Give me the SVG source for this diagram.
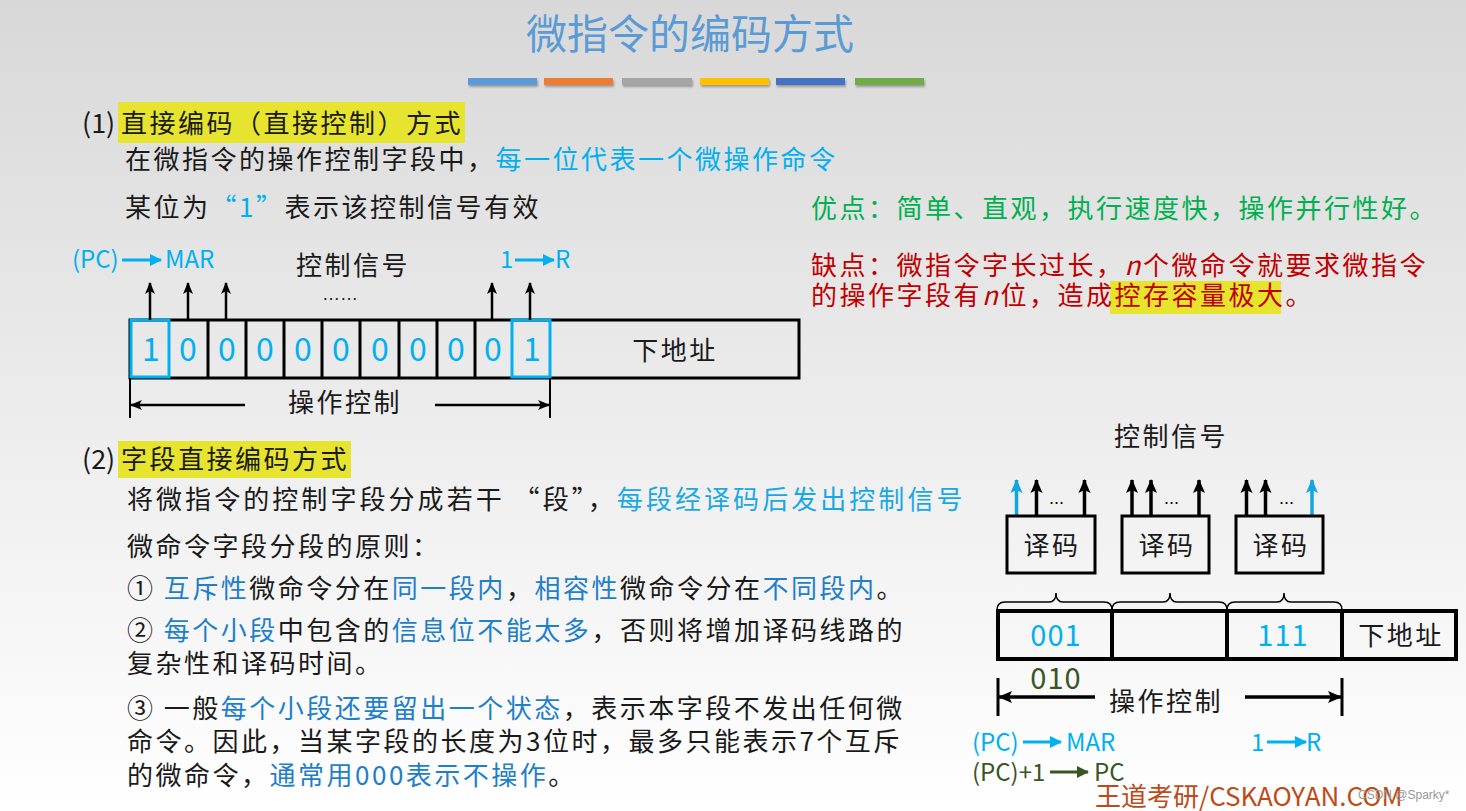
<svg xmlns="http://www.w3.org/2000/svg" width="1466" height="811" viewBox="0 0 1466 811">
<defs>
<linearGradient id="bg" x1="0" y1="0" x2="0" y2="1">
<stop offset="0" stop-color="#d8d8d8"/>
<stop offset="0.5" stop-color="#ececec"/>
<stop offset="1" stop-color="#ffffff"/>
</linearGradient>
<marker id="ah" markerUnits="userSpaceOnUse" markerWidth="12" markerHeight="12" viewBox="0 0 12 12" refX="11" refY="6" orient="auto">
<path d="M0,1 L12,6 L0,11 L3,6 Z" fill="#000"/>
</marker>
<marker id="ahb" markerUnits="userSpaceOnUse" markerWidth="14" markerHeight="14" viewBox="0 0 14 14" refX="13" refY="7" orient="auto">
<path d="M0,1 L14,7 L0,13 L3,7 Z" fill="#000"/>
</marker>
<marker id="ahc" markerUnits="userSpaceOnUse" markerWidth="14" markerHeight="14" viewBox="0 0 14 14" refX="13" refY="7" orient="auto">
<path d="M0,1 L14,7 L0,13 L3,7 Z" fill="#12a6e0"/>
</marker>
<marker id="ahl" markerUnits="userSpaceOnUse" markerWidth="12" markerHeight="12" viewBox="0 0 12 12" refX="11" refY="6" orient="auto">
<path d="M0,0 L12,6 L0,12 Z" fill="#00b0f0"/>
</marker>
<marker id="ahg" markerUnits="userSpaceOnUse" markerWidth="12" markerHeight="12" viewBox="0 0 12 12" refX="11" refY="6" orient="auto">
<path d="M0,0 L12,6 L0,12 Z" fill="#375623"/>
</marker>
<filter id="sh" x="-5%" y="-50%" width="110%" height="250%">
<feDropShadow dx="1" dy="2" stdDeviation="1.2" flood-color="#000" flood-opacity="0.3"/>
</filter>
<style>
text{font-family:"Noto Sans CJK SC","Noto Sans",sans-serif;}
.t{font-size:26px;letter-spacing:2.5px;fill:#1a1a1a;}
.n{font-size:27px;fill:#1a1a1a;}
.c{fill:#00b0f0;}
.b{fill:#1f7fc8;}
.lc{fill:#1aa8e4;}
.g{fill:#00b050;}
.r{fill:#c00000;}
.dg{fill:#375623;}
.lab{font-size:24px;}
.cell{fill:none;stroke:#000;stroke-width:3;}
.cellb{fill:none;stroke:#00b0f0;stroke-width:3;}
.ar{stroke:#000;stroke-width:2.5;fill:none;}
.arb{stroke:#000;stroke-width:3.5;fill:none;}
.hl{fill:#e6e42e;}
.mid{text-anchor:middle;}
</style>
</defs>
<rect x="0" y="0" width="1466" height="811" fill="url(#bg)"/>

<g id="title">
<text x="690" y="49" class="mid" style="font-size:41px;fill:#5b9bd5;">微指令的编码方式</text>
<g filter="url(#sh)">
<rect x="468" y="78" width="69" height="7" fill="#5b9bd5"/>
<rect x="544" y="78" width="69" height="7" fill="#ed7d31"/>
<rect x="622" y="78" width="70" height="7" fill="#a5a5a5"/>
<rect x="700" y="78" width="69" height="7" fill="#ffc000"/>
<rect x="776" y="78" width="69" height="7" fill="#4472c4"/>
<rect x="855" y="78" width="69" height="7" fill="#70ad47"/>
</g>
</g>

<g id="section1-text">
<rect x="118" y="102" width="347" height="41" class="hl"/>
<text x="82" y="133" class="n">(1)</text>
<text x="121" y="133" class="t">直接编码（直接控制）方式</text>
<text x="125" y="169" class="t">在微指令的操作控制字段中，<tspan class="c">每一位代表一个微操作命令</tspan></text>
<text x="125" y="217" class="t">某位为<tspan class="c">“1”</tspan>表示该控制信号有效</text>
</g>

<g id="pros-cons">
<text x="811" y="218" class="t g">优点：简单、直观，执行速度快，操作并行性好。</text>
<rect x="1110" y="281" width="171" height="33" class="hl"/>
<text x="811" y="275" class="t r">缺点：微指令字长过长，<tspan font-style="italic">n</tspan>个微命令就要求微指令</text>
<text x="811" y="305" class="t r">的操作字段有<tspan font-style="italic">n</tspan>位，造成控存容量极大。</text>
</g>

<g id="direct-word">
<rect x="130" y="320" width="669" height="58" class="cell"/>
<line x1="208" y1="320" x2="208" y2="378" class="cell"/>
<line x1="246" y1="320" x2="246" y2="378" class="cell"/>
<line x1="284" y1="320" x2="284" y2="378" class="cell"/>
<line x1="322" y1="320" x2="322" y2="378" class="cell"/>
<line x1="360" y1="320" x2="360" y2="378" class="cell"/>
<line x1="399" y1="320" x2="399" y2="378" class="cell"/>
<line x1="437" y1="320" x2="437" y2="378" class="cell"/>
<line x1="475" y1="320" x2="475" y2="378" class="cell"/>
<rect x="131" y="320" width="38" height="57" class="cellb"/>
<rect x="512" y="320" width="38" height="57" class="cellb"/>
<g style="font-size:32px;" class="c">
<text x="151" y="361" text-anchor="middle">1</text>
<text x="188" y="361" text-anchor="middle">0</text>
<text x="227" y="361" text-anchor="middle">0</text>
<text x="265" y="361" text-anchor="middle">0</text>
<text x="303" y="361" text-anchor="middle">0</text>
<text x="341" y="361" text-anchor="middle">0</text>
<text x="380" y="361" text-anchor="middle">0</text>
<text x="418" y="361" text-anchor="middle">0</text>
<text x="456" y="361" text-anchor="middle">0</text>
<text x="493" y="361" text-anchor="middle">0</text>
<text x="532" y="361" text-anchor="middle">1</text>
</g>
<text x="675" y="360" class="t mid">下地址</text>
<text x="353" y="275" class="t mid">控制信号</text>
<text x="322" y="300" style="font-family:'Liberation Sans',sans-serif;font-size:18px;fill:#1a1a1a;">……</text>
<text x="72" y="268" class="lab c">(PC)</text>
<text x="165" y="268" class="lab c">MAR</text>
<text x="500" y="268" class="lab c">1</text>
<text x="555" y="268" class="lab c">R</text>
<text x="345" y="412" class="t mid">操作控制</text>
</g>

<g id="connectors">
<line x1="150" y1="320" x2="150" y2="283" class="ar" marker-end="url(#ah)"/>
<line x1="188" y1="320" x2="188" y2="283" class="ar" marker-end="url(#ah)"/>
<line x1="226" y1="320" x2="226" y2="283" class="ar" marker-end="url(#ah)"/>
<line x1="492" y1="320" x2="492" y2="283" class="ar" marker-end="url(#ah)"/>
<line x1="530" y1="320" x2="530" y2="283" class="ar" marker-end="url(#ah)"/>
<line x1="122" y1="260" x2="161" y2="260" stroke="#00b0f0" stroke-width="3" marker-end="url(#ahl)"/>
<line x1="515" y1="260" x2="554" y2="260" stroke="#00b0f0" stroke-width="3" marker-end="url(#ahl)"/>
<line x1="130" y1="378" x2="130" y2="418" stroke="#000" stroke-width="2"/>
<line x1="550" y1="378" x2="550" y2="418" stroke="#000" stroke-width="2"/>
<line x1="245" y1="405" x2="131" y2="405" class="ar" marker-end="url(#ah)"/>
<line x1="435" y1="405" x2="549" y2="405" class="ar" marker-end="url(#ah)"/>

<line x1="1016.5" y1="516" x2="1016.5" y2="480" stroke="#12a6e0" stroke-width="3.5" marker-end="url(#ahc)"/>
<line x1="1036.5" y1="516" x2="1036.5" y2="480" class="arb" marker-end="url(#ahb)"/>
<line x1="1084.5" y1="516" x2="1084.5" y2="480" class="arb" marker-end="url(#ahb)"/>
<line x1="1132" y1="516" x2="1132" y2="480" class="arb" marker-end="url(#ahb)"/>
<line x1="1151" y1="516" x2="1151" y2="480" class="arb" marker-end="url(#ahb)"/>
<line x1="1199" y1="516" x2="1199" y2="480" class="arb" marker-end="url(#ahb)"/>
<line x1="1246.5" y1="516" x2="1246.5" y2="480" class="arb" marker-end="url(#ahb)"/>
<line x1="1265.5" y1="516" x2="1265.5" y2="480" class="arb" marker-end="url(#ahb)"/>
<line x1="1312" y1="516" x2="1312" y2="480" stroke="#12a6e0" stroke-width="3.5" marker-end="url(#ahc)"/>

<path d="M997,610 Q997,602 1005,602 L1049,602 Q1056,602 1056,593 Q1056,602 1063,602 L1104,602 Q1112,602 1112,610" fill="none" stroke="#000" stroke-width="1.5"/>
<path d="M1112,610 Q1112,602 1120,602 L1163,602 Q1170,602 1170,593 Q1170,602 1177,602 L1219,602 Q1227,602 1227,610" fill="none" stroke="#000" stroke-width="1.5"/>
<path d="M1227,610 Q1227,602 1235,602 L1277,602 Q1284,602 1284,593 Q1284,602 1291,602 L1334,602 Q1342,602 1342,610" fill="none" stroke="#000" stroke-width="1.5"/>

<line x1="998" y1="678" x2="998" y2="716" stroke="#000" stroke-width="3"/>
<line x1="1342" y1="678" x2="1342" y2="716" stroke="#000" stroke-width="3"/>
<line x1="1095" y1="697" x2="999" y2="697" class="arb" marker-end="url(#ahb)"/>
<line x1="1245" y1="697" x2="1341" y2="697" class="arb" marker-end="url(#ahb)"/>

<line x1="1023" y1="742" x2="1061" y2="742" stroke="#00b0f0" stroke-width="3" marker-end="url(#ahl)"/>
<line x1="1267" y1="742" x2="1306" y2="742" stroke="#00b0f0" stroke-width="3" marker-end="url(#ahl)"/>
<line x1="1050" y1="772" x2="1088" y2="772" stroke="#375623" stroke-width="3" marker-end="url(#ahg)"/>
</g>

<g id="section2-text">
<rect x="118" y="441" width="233" height="37" class="hl"/>
<text x="82" y="469" class="n">(2)</text>
<text x="121" y="469" class="t">字段直接编码方式</text>
<text x="127" y="509" class="t" textLength="838">将微指令的控制字段分成若干 “段”，<tspan class="lc">每段经译码后发出控制信号</tspan></text>
<text x="127" y="556" class="t">微命令字段分段的原则：</text>
<text x="127" y="598" class="t">① <tspan class="b">互斥性</tspan>微命令分在<tspan class="b">同一段内</tspan>，<tspan class="b">相容性</tspan>微命令分在<tspan class="b">不同段内</tspan>。</text>
<text x="127" y="640" class="t">② <tspan class="b">每个小段</tspan>中包含的<tspan class="b">信息位不能太多</tspan>，否则将增加译码线路的</text>
<text x="127" y="673" class="t">复杂性和译码时间。</text>
<text x="127" y="718" class="t">③ 一般<tspan class="b">每个小段还要留出一个状态</tspan>，表示本字段不发出任何微</text>
<text x="127" y="751" class="t">命令。因此，当某字段的长度为3位时，最多只能表示7个互斥</text>
<text x="127" y="785" class="t">的微命令，<tspan class="b">通常用000表示不操作</tspan>。</text>
</g>

<g id="decoders">
<text x="1171" y="446" class="t mid">控制信号</text>
<rect x="1007" y="516" width="88" height="57" class="cell"/>
<rect x="1122" y="516" width="87" height="57" class="cell"/>
<rect x="1236" y="516" width="87" height="57" class="cell"/>
<text x="1052" y="555" class="t mid">译码</text>
<text x="1167" y="555" class="t mid">译码</text>
<text x="1281" y="555" class="t mid">译码</text>
<text x="1049" y="504" style="font-family:'Liberation Sans',sans-serif;font-size:18px;fill:#000;">...</text>
<text x="1164" y="504" style="font-family:'Liberation Sans',sans-serif;font-size:18px;fill:#000;">...</text>
<text x="1279" y="504" style="font-family:'Liberation Sans',sans-serif;font-size:18px;fill:#000;">...</text>
</g>

<g id="field-word">
<rect x="998" y="611" width="458" height="48" fill="none" stroke="#000" stroke-width="4"/>
<line x1="1112" y1="611" x2="1112" y2="659" stroke="#000" stroke-width="4"/>
<line x1="1227" y1="611" x2="1227" y2="659" stroke="#000" stroke-width="4"/>
<line x1="1342" y1="611" x2="1342" y2="659" stroke="#000" stroke-width="4"/>
<text x="1056" y="646" class="c mid" style="font-size:29px;letter-spacing:1px;">001</text>
<text x="1283" y="646" class="c mid" style="font-size:29px;letter-spacing:1px;">111</text>
<text x="1401" y="645" class="t mid">下地址</text>
<text x="1056" y="689" class="dg mid" style="font-size:29px;letter-spacing:1px;">010</text>
<text x="1166" y="711" class="t mid">操作控制</text>
<text x="972" y="751" class="lab c">(PC)</text>
<text x="1066" y="751" class="lab c">MAR</text>
<text x="1251" y="751" class="lab c">1</text>
<text x="1306" y="751" class="lab c">R</text>
<text x="972" y="781" class="lab dg">(PC)+1</text>
<text x="1094" y="781" class="lab dg">PC</text>
</g>

<g id="watermark">
<text x="1095" y="806" style="font-size:26px;fill:#c04a17;">王道考研/CSKAOYAN.COM</text>
<text x="1358" y="799" style="font-family:'Liberation Sans',sans-serif;font-size:12px;fill:#9a9a9a;">CSDN @Sparky*</text>
</g>
</svg>
